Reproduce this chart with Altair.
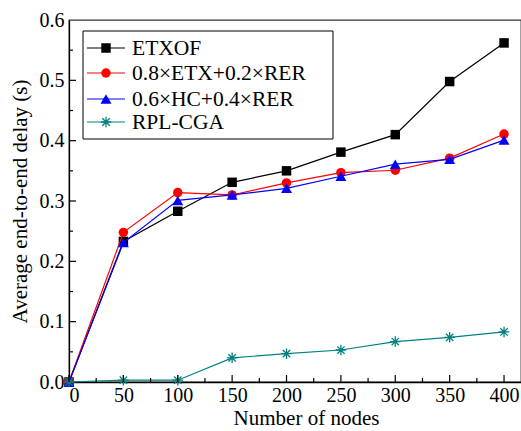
import altair as alt
import pandas as pd

nodes = [0, 50, 100, 150, 200, 250, 300, 350, 400]
etxof = [0.0, 0.233, 0.283, 0.331, 0.350, 0.381, 0.410, 0.498, 0.562]
etx_rer = [0.0, 0.248, 0.314, 0.310, 0.330, 0.347, 0.351, 0.371, 0.411]
hc_rer = [0.0, 0.231, 0.301, 0.310, 0.321, 0.341, 0.361, 0.369, 0.401]
rpl_cga = [0.0, 0.003, 0.003, 0.040, 0.047, 0.053, 0.067, 0.074, 0.083]

series_names = ["ETXOF", "0.8×ETX+0.2×RER", "0.6×HC+0.4×RER", "RPL-CGA"]
series_vals = [etxof, etx_rer, hc_rer, rpl_cga]
colors = ["#000000", "#ff0000", "#0000ff", "#008080"]
ASTER = "M-1,0H1M0,-1V1M-0.7,-0.7L0.7,0.7M-0.7,0.7L0.7,-0.7"
shapes = ["square", "circle", "triangle-up", ASTER]
sizes = [90, 90, 120, 110]
filled = [True, True, True, False]

x_major = [0, 50, 100, 150, 200, 250, 300, 350, 400]
x_minor = [25, 75, 125, 175, 225, 275, 325, 375]
y_major = [0.1, 0.2, 0.3, 0.4, 0.5]
y_minor = [0.05, 0.15, 0.25, 0.35, 0.45, 0.55]

W, H = 452, 362
FONT = "Liberation Serif, 'Times New Roman', Times, serif"
xs = alt.Scale(domain=[0, 415.6], nice=False, zero=False)
ys = alt.Scale(domain=[0, 0.6], nice=False)

layers = []
for name, vals, c, sh, sz, fl in zip(series_names, series_vals, colors, shapes, sizes, filled):
    df = pd.DataFrame({"n": nodes, "v": vals})
    base = alt.Chart(df)
    line = base.mark_line(color=c, strokeWidth=1.2).encode(
        x=alt.X("n:Q", scale=xs), y=alt.Y("v:Q", scale=ys))
    pts = base.mark_point(shape=sh, size=sz, filled=fl, color=c, opacity=1,
                          strokeWidth=1.3).encode(
        x=alt.X("n:Q", scale=xs), y=alt.Y("v:Q", scale=ys))
    layers += [line, pts]

# inward ticks
xmaj = alt.Chart(pd.DataFrame({"t": x_major})).mark_rule(color="black", strokeWidth=1.2).encode(
    x=alt.X("t:Q", scale=xs), y=alt.value(H), y2=alt.value(H - 7))
xmin = alt.Chart(pd.DataFrame({"t": x_minor})).mark_rule(color="black", strokeWidth=1.2).encode(
    x=alt.X("t:Q", scale=xs), y=alt.value(H), y2=alt.value(H - 4))
ymaj = alt.Chart(pd.DataFrame({"t": y_major})).mark_rule(color="black", strokeWidth=1.2).encode(
    y=alt.Y("t:Q", scale=ys), x=alt.value(0), x2=alt.value(7))
ymin = alt.Chart(pd.DataFrame({"t": y_minor})).mark_rule(color="black", strokeWidth=1.2).encode(
    y=alt.Y("t:Q", scale=ys), x=alt.value(0), x2=alt.value(4))
layers += [xmaj, xmin, ymaj, ymin]

# legend
LX0, LY0, LX1, LY1 = 14, 11, 264, 119
box = alt.Chart(pd.DataFrame({"a": [0]})).mark_rect(
    fill="white", stroke="black", strokeWidth=1).encode(
    x=alt.value(LX0), x2=alt.value(LX1), y=alt.value(LY0), y2=alt.value(LY1))
layers.append(box)
rows = [28, 53, 79, 102]
for name, c, sh, sz, fl, ry in zip(series_names, colors, shapes, sizes, filled, rows):
    d = alt.Chart(pd.DataFrame({"a": [0]}))
    layers.append(d.mark_rule(color=c, strokeWidth=1.2).encode(
        x=alt.value(18), x2=alt.value(56), y=alt.value(ry)))
    layers.append(d.mark_point(shape=sh, size=sz, filled=fl, color=c, opacity=1,
                               strokeWidth=1.3).encode(
        x=alt.value(37), y=alt.value(ry)))
    layers.append(d.mark_text(align="left", baseline="middle", font=FONT, fontSize=21.5,
                              color="black").encode(
        x=alt.value(63), y=alt.value(ry + 1), text=alt.value(name)))

axis_common = dict(labelFont=FONT, titleFont=FONT, labelColor="black", titleColor="black",
                   domainColor="black", domainWidth=1.3, ticks=False, grid=False,
                   labelFontSize=20, titleFontSize=21, titleFontWeight="normal")

frame = alt.Chart(pd.DataFrame({"n": [0], "v": [0]})).mark_point(opacity=0).encode(
    x=alt.X("n:Q", scale=xs, title="Number of nodes",
            axis=alt.Axis(values=x_major, format="d", labelPadding=3, titlePadding=2,
                          titleX=237, **axis_common)),
    y=alt.Y("v:Q", scale=ys, title="Average end-to-end delay (s)",
            axis=alt.Axis(values=[0, 0.1, 0.2, 0.3, 0.4, 0.5, 0.6], format=".1f",
                          labelPadding=5, titlePadding=9, **axis_common)),
)

chart = alt.layer(frame, *layers).properties(
    width=W, height=H,
    autosize=alt.AutoSizeParams(type="none"),
    padding={"left": 69, "top": 20, "right": 0, "bottom": 49},
    background="white",
).configure_view(stroke="#333333", strokeWidth=1.3)

chart.save("out.html", embed_options={"renderer": "svg", "actions": False})
